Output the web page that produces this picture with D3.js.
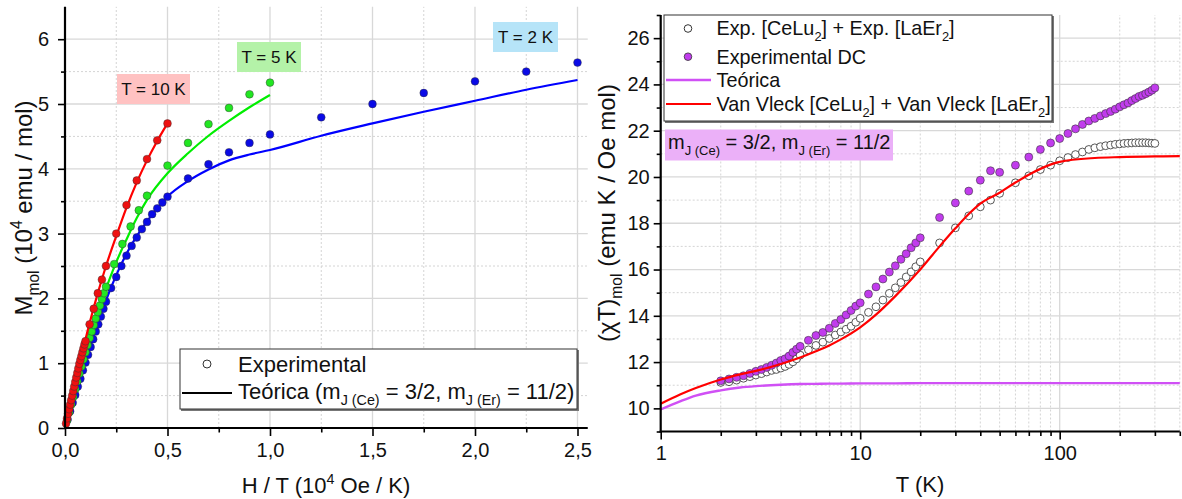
<!DOCTYPE html>
<html><head><meta charset="utf-8">
<script src="https://cdn.jsdelivr.net/npm/d3@7"></script>
<style>body{margin:0;background:#fff}svg{display:block;font-family:"Liberation Sans",Arial,sans-serif}</style>
</head><body><svg id="c" width="1182" height="499"></svg>
<script>
// ---------- Left panel: M vs H/T ----------
const xTicksL = [0, 0.5, 1, 1.5, 2, 2.5];
const yTicksL = [0, 1, 2, 3, 4, 5, 6];

const exp2K_x = [0.0125,0.025,0.0375,0.05,0.0625,0.075,0.0875,0.1,0.1125,0.125,0.1375,0.15,0.1625,0.175,0.1875,0.2,0.225,0.25,0.275,0.3,0.325,0.35,0.375,0.4,0.425,0.45,0.475,0.5,0.6,0.7,0.8,0.9,1.0,1.25,1.5,1.75,2.0,2.25,2.5];
const exp2K_y = [0.13,0.26,0.39,0.51,0.64,0.76,0.89,1.01,1.13,1.25,1.37,1.49,1.60,1.72,1.84,1.95,2.16,2.33,2.50,2.66,2.81,2.94,3.07,3.18,3.30,3.39,3.48,3.57,3.85,4.07,4.255,4.40,4.53,4.795,5.0,5.17,5.35,5.50,5.64];
const th2K_x = [0,0.05,0.1,0.15,0.2,0.25,0.3,0.35,0.4,0.45,0.5,0.6,0.7,0.8,0.9,1.0,1.25,1.5,1.75,2.0,2.25,2.5];
const th2K_y = [0,0.52,1.03,1.52,1.97,2.36,2.69,2.96,3.19,3.39,3.57,3.81,3.99,4.13,4.22,4.29,4.51,4.70,4.88,5.05,5.22,5.37];

const exp5K_x = [0.01,0.02,0.03,0.04,0.05,0.06,0.07,0.08,0.09,0.1,0.11,0.12,0.13,0.14,0.15,0.16,0.17,0.18,0.19,0.2,0.24,0.28,0.32,0.36,0.4,0.5,0.6,0.7,0.8,0.9,1.0];
const exp5K_y = [0.12,0.24,0.36,0.48,0.60,0.72,0.84,0.95,1.06,1.17,1.28,1.39,1.49,1.59,1.69,1.79,1.89,1.99,2.08,2.18,2.53,2.84,3.11,3.36,3.585,4.05,4.40,4.69,4.94,5.15,5.33];
const th5K_x = [0,0.05,0.1,0.15,0.2,0.25,0.3,0.35,0.4,0.5,0.6,0.7,0.8,0.9,1.0];
const th5K_y = [0,0.60,1.18,1.69,2.15,2.56,2.91,3.24,3.52,3.93,4.24,4.51,4.74,4.95,5.14];

const exp10K_x = [0.005,0.01,0.015,0.02,0.025,0.03,0.035,0.04,0.045,0.05,0.055,0.06,0.065,0.07,0.075,0.08,0.085,0.09,0.095,0.1,0.12,0.14,0.16,0.18,0.2,0.25,0.3,0.35,0.4,0.45,0.5];
const exp10K_y = [0.07,0.15,0.22,0.29,0.36,0.43,0.50,0.57,0.64,0.71,0.78,0.85,0.92,0.99,1.05,1.11,1.17,1.23,1.29,1.34,1.60,1.84,2.08,2.29,2.50,3.00,3.44,3.82,4.15,4.44,4.70];
const th10K_x = [0,0.05,0.1,0.15,0.2,0.25,0.3,0.35,0.4,0.45,0.5];
const th10K_y = [0,0.71,1.37,1.97,2.50,2.96,3.40,3.79,4.13,4.43,4.70];

// ---------- Right panel: chiT vs T ----------
const xTicksR = [1, 10, 100];
const yTicksR = [10, 12, 14, 16, 18, 20, 22, 24, 26];
const tempsExp = [2,2.2,2.4,2.6,2.8,3,3.2,3.4,3.6,3.8,4,4.2,4.4,4.6,4.8,5,5.5,6,6.5,7,7.5,8,8.5,9,9.5,10,11,12,13,14,15,16,17,18,19,20,25,30,35,40,45,50,60,70,80,90,100,110,120,130,140,150,160,170,180,190,200,210,220,230,240,250,260,270,280,290,300];
const chiDC = [11.19,11.27,11.34,11.41,11.51,11.60,11.68,11.77,11.86,11.96,12.07,12.14,12.26,12.42,12.56,12.68,12.94,13.15,13.28,13.46,13.67,13.84,14.04,14.23,14.42,14.56,14.94,15.25,15.59,15.89,16.16,16.44,16.68,16.94,17.15,17.37,18.25,18.88,19.39,19.86,20.27,20.20,20.51,20.86,21.19,21.47,21.66,21.88,22.08,22.27,22.42,22.53,22.64,22.74,22.83,22.93,23.03,23.12,23.20,23.30,23.39,23.48,23.53,23.60,23.67,23.75,23.85];
const chiSum = [11.12,11.15,11.22,11.30,11.37,11.44,11.50,11.57,11.64,11.68,11.74,11.81,11.90,12.01,12.14,12.30,12.53,12.72,12.86,13.02,13.17,13.30,13.42,13.55,13.72,13.89,14.15,14.39,14.68,14.97,15.21,15.44,15.68,15.90,16.12,16.33,17.15,17.80,18.32,18.71,19.00,19.29,19.75,20.05,20.32,20.51,20.70,20.84,20.97,21.08,21.19,21.26,21.31,21.35,21.38,21.41,21.43,21.45,21.46,21.47,21.48,21.48,21.48,21.48,21.47,21.46,21.45];
const tempsTh = [1,1.25,1.5,2,2.5,3,4,5,6,7,8,10,12,15,20,25,30,35,40,50,60,70,80,100,150,200,300,400];
const chiTeo = [9.95,10.30,10.55,10.78,10.90,10.96,11.02,11.05,11.06,11.07,11.07,11.08,11.08,11.08,11.09,11.09,11.09,11.09,11.09,11.09,11.09,11.09,11.09,11.09,11.09,11.09,11.09,11.09];
const chiVV = [10.20,10.60,10.88,11.25,11.47,11.62,11.92,12.20,12.47,12.72,12.98,13.50,14.05,14.85,16.00,17.00,17.78,18.40,18.85,19.32,19.76,20.10,20.35,20.65,20.82,20.86,20.89,20.90];

// ---------- drawing ----------
const svg = d3.select("#c");
const FONT = 20;

const xL = d3.scaleLinear().domain([0, 2.55]).range([65, 587.75]);
const yL = d3.scaleLinear().domain([0, 6.5]).range([428, 6.8]);
const xR = d3.scaleLog().domain([1, 400]).range([660.7, 1179.8]);
const yR = d3.scaleLinear().domain([9, 27]).range([431.5, 15]);

function rich(sel, parts, size) {
  let prev = 0;
  parts.forEach(([t, k]) => {
    const ts = sel.append("tspan").text(t);
    let off = 0, fs = size;
    if (k === "sub") { off = size * 0.3; fs = size * 0.65; }
    if (k === "sup") { off = -size * 0.4; fs = size * 0.65; }
    ts.attr("font-size", fs).attr("dy", off - prev);
    prev = off;
  });
}

function grid(g, xs, ys, xMaj, xMin, yMaj, yMin) {
  const [x0, x1] = xs.range(); const [y0, y1] = ys.range();
  g.append("g").selectAll("line").data(xMin).join("line").attr("x1", d => xs(d)).attr("x2", d => xs(d)).attr("y1", y0).attr("y2", y1)
    .attr("stroke", "#d4d4d4").attr("stroke-width", 1).attr("stroke-dasharray", "2,2");
  g.append("g").selectAll("line").data(yMin).join("line").attr("y1", d => ys(d)).attr("y2", d => ys(d)).attr("x1", x0).attr("x2", x1)
    .attr("stroke", "#d4d4d4").attr("stroke-width", 1).attr("stroke-dasharray", "2,2");
  g.append("g").selectAll("line").data(xMaj).join("line").attr("x1", d => xs(d)).attr("x2", d => xs(d)).attr("y1", y0).attr("y2", y1)
    .attr("stroke", "#d8d8d8").attr("stroke-width", 1.3);
  g.append("g").selectAll("line").data(yMaj).join("line").attr("y1", d => ys(d)).attr("y2", d => ys(d)).attr("x1", x0).attr("x2", x1)
    .attr("stroke", "#d8d8d8").attr("stroke-width", 1.3);
}

function axes(g, xs, ys, xMaj, xMin, yMaj, yMin, xfmt, yfmt, xpad, ypad) {
  const [x0] = xs.range(); const [y0] = ys.range();
  const ax = g.append("g").attr("transform", `translate(0,${y0})`)
    .call(d3.axisBottom(xs).tickValues(xMaj).tickSize(8).tickPadding(xpad).tickFormat(xfmt).tickSizeOuter(0));
  const axm = g.append("g").attr("transform", `translate(0,${y0})`)
    .call(d3.axisBottom(xs).tickValues(xMin).tickSize(4.5).tickFormat("").tickSizeOuter(0));
  const ay = g.append("g").attr("transform", `translate(${x0},0)`)
    .call(d3.axisLeft(ys).tickValues(yMaj).tickSize(7).tickPadding(ypad).tickFormat(yfmt).tickSizeOuter(0));
  const aym = g.append("g").attr("transform", `translate(${x0},0)`)
    .call(d3.axisLeft(ys).tickValues(yMin).tickSize(4).tickFormat("").tickSizeOuter(0));
  [ax, axm, ay, aym].forEach(a => {
    a.select(".domain").remove();
    a.selectAll("line").attr("stroke", "#000").attr("stroke-width", 1.6);
    a.selectAll("text").attr("font-size", FONT).attr("fill", "#111").attr("font-family", "Liberation Sans, Arial, sans-serif");
  });
  const [xa, xb] = xs.range(); const [ya, yb] = ys.range();
  g.append("line").attr("x1", xa - 1).attr("x2", xb).attr("y1", ya).attr("y2", ya).attr("stroke", "#000").attr("stroke-width", 2.2);
  g.append("line").attr("x1", xa).attr("x2", xa).attr("y1", ya + 1).attr("y2", yb).attr("stroke", "#000").attr("stroke-width", 2.2);
}

// ===== LEFT =====
const gL = svg.append("g");
const xMinL = [0.25, 0.75, 1.25, 1.75, 2.25];
const yMinL = [0.5, 1.5, 2.5, 3.5, 4.5, 5.5];
grid(gL, xL, yL, xTicksL.slice(1), xMinL, yTicksL.slice(1), yMinL);

const lineL = d3.line().x(d => xL(d[0])).y(d => yL(d[1])).curve(d3.curveMonotoneX);
const seriesL = [
  {ex: exp2K_x, ey: exp2K_y, tx: th2K_x, ty: th2K_y, c: "#0000ff", f: "#0a0ae6"},
  {ex: exp5K_x, ey: exp5K_y, tx: th5K_x, ty: th5K_y, c: "#00ee00", f: "#22e622"},
  {ex: exp10K_x, ey: exp10K_y, tx: th10K_x, ty: th10K_y, c: "#ff0000", f: "#ee1111"}
];
seriesL.forEach(s => {
  gL.append("path").datum(s.tx.map((x, i) => [x, s.ty[i]])).attr("d", lineL)
    .attr("fill", "none").attr("stroke", s.c).attr("stroke-width", 2.2);
  gL.append("g").selectAll("circle").data(s.ex.map((x, i) => [x, s.ey[i]])).join("circle")
    .attr("cx", d => xL(d[0])).attr("cy", d => yL(d[1])).attr("r", 3.9)
    .attr("fill", s.f).attr("stroke", "#333").attr("stroke-opacity", 0.55).attr("stroke-width", 0.8);
});

axes(gL, xL, yL, xTicksL, xMinL, yTicksL, yMinL,
  d => d3.format(".1f")(d).replace(".", ","), d3.format("d"), 7, 9);

function tagBox(x, y, w, h, fill, txt) {
  gL.append("rect").attr("x", x).attr("y", y).attr("width", w).attr("height", h).attr("fill", fill);
  gL.append("text").attr("x", x + w / 2).attr("y", y + h / 2 + 6).attr("text-anchor", "middle")
    .attr("font-size", 17).attr("fill", "#111").text(txt);
}
tagBox(117, 74, 73, 30, "#ffc2c2", "T = 10 K");
tagBox(237, 42, 64, 30, "#b4f2a8", "T = 5 K");
tagBox(493, 22, 65, 30, "#b6e4f8", "T = 2 K");

// left legend
const lg = gL.append("g");
lg.append("rect").attr("x", 181).attr("y", 350).attr("width", 398).attr("height", 61).attr("fill", "#777");
lg.append("rect").attr("x", 180).attr("y", 349).attr("width", 397).attr("height", 60).attr("fill", "#fff").attr("stroke", "#333").attr("stroke-width", 1);
lg.append("circle").attr("cx", 207).attr("cy", 364).attr("r", 4).attr("fill", "#fff").attr("stroke", "#333").attr("stroke-width", 1);
lg.append("text").attr("x", 238).attr("y", 371.5).attr("font-size", 22).attr("fill", "#111").text("Experimental");
lg.append("line").attr("x1", 182).attr("x2", 232).attr("y1", 393).attr("y2", 393).attr("stroke", "#000").attr("stroke-width", 2.2);
rich(lg.append("text").attr("x", 238).attr("y", 398.5).attr("fill", "#111"),
  [["Teórica (m", "n"], ["J (Ce)", "sub"], [" = 3/2, m", "n"], ["J (Er)", "sub"], [" = 11/2)", "n"]], 22);

// axis titles left
rich(svg.append("text").attr("x", 326).attr("y", 493).attr("text-anchor", "middle").attr("fill", "#111"),
  [["H / T (10", "n"], ["4", "sup"], [" Oe / K)", "n"]], 22);
rich(svg.append("text").attr("transform", "translate(32,208) rotate(-90)").attr("text-anchor", "middle").attr("fill", "#111"),
  [["M", "n"], ["mol", "sub"], [" (10", "n"], ["4", "sup"], [" emu / mol)", "n"]], 24);

// ===== RIGHT =====
const gR = svg.append("g");
const xMinR = [2,3,4,5,6,7,8,9,20,30,40,50,60,70,80,90,200,300,400];
const yMinR = [11, 13, 15, 17, 19, 21, 23, 25];
grid(gR, xR, yR, xTicksR.slice(1), xMinR, yTicksR, yMinR);

gR.append("g").selectAll("circle").data(tempsExp.map((t, i) => [t, chiSum[i]])).join("circle")
  .attr("cx", d => xR(d[0])).attr("cy", d => yR(d[1])).attr("r", 3.9)
  .attr("fill", "#fff").attr("stroke", "#444").attr("stroke-width", 0.9);
gR.append("g").selectAll("circle").data(tempsExp.map((t, i) => [t, chiDC[i]])).join("circle")
  .attr("cx", d => xR(d[0])).attr("cy", d => yR(d[1])).attr("r", 4)
  .attr("fill", "#c13ced").attr("stroke", "#333").attr("stroke-opacity", 0.7).attr("stroke-width", 0.8);

const lineR = d3.line().x(d => xR(d[0])).y(d => yR(d[1])).curve(d3.curveMonotoneX);
gR.append("path").datum(tempsTh.map((t, i) => [t, chiTeo[i]])).attr("d", lineR)
  .attr("fill", "none").attr("stroke", "#d050f5").attr("stroke-width", 2.4);
gR.append("path").datum(tempsTh.map((t, i) => [t, chiVV[i]])).attr("d", lineR)
  .attr("fill", "none").attr("stroke", "#ff0000").attr("stroke-width", 2.2);

axes(gR, xR, yR, xTicksR, xMinR, yTicksR, [9, ...yMinR, 27], d3.format("d"), d3.format("d"), 6, 4);

// right legend
const rg = gR.append("g");
rg.append("rect").attr("x", 665).attr("y", 16).attr("width", 389).attr("height", 107).attr("fill", "#777");
rg.append("rect").attr("x", 664).attr("y", 15).attr("width", 388).attr("height", 106).attr("fill", "#fff").attr("stroke", "#333").attr("stroke-width", 1);
rg.append("circle").attr("cx", 688).attr("cy", 28.5).attr("r", 3.8).attr("fill", "#fff").attr("stroke", "#333").attr("stroke-width", 1);
rich(rg.append("text").attr("x", 716.5).attr("y", 35).attr("fill", "#111"),
  [["Exp. [CeLu", "n"], ["2", "sub"], ["] + Exp. [LaEr", "n"], ["2", "sub"], ["]", "n"]], 19.8);
rg.append("circle").attr("cx", 688).attr("cy", 56.7).attr("r", 3.8).attr("fill", "#c13ced").attr("stroke", "#333").attr("stroke-width", 0.8);
rg.append("text").attr("x", 716.5).attr("y", 63.5).attr("font-size", 19.8).attr("fill", "#111").text("Experimental DC");
rg.append("line").attr("x1", 666).attr("x2", 711).attr("y1", 80).attr("y2", 80).attr("stroke", "#d050f5").attr("stroke-width", 2.4);
rg.append("text").attr("x", 716.5).attr("y", 86.8).attr("font-size", 19.8).attr("fill", "#111").text("Teórica");
rg.append("line").attr("x1", 666).attr("x2", 711).attr("y1", 104).attr("y2", 104).attr("stroke", "#ff0000").attr("stroke-width", 2.2);
rich(rg.append("text").attr("x", 716.5).attr("y", 111).attr("fill", "#111"),
  [["Van Vleck [CeLu", "n"], ["2", "sub"], ["] + Van Vleck [LaEr", "n"], ["2", "sub"], ["]", "n"]], 19.8);

// annotation
gR.append("rect").attr("x", 665).attr("y", 129.5).attr("width", 228).attr("height", 31).attr("fill", "#ebb0f8");
rich(gR.append("text").attr("x", 668).attr("y", 148.5).attr("fill", "#111"),
  [["m", "n"], ["J (Ce)", "sub"], [" = 3/2, m", "n"], ["J (Er)", "sub"], [" = 11/2", "n"]], 20);

// axis titles right
svg.append("text").attr("x", 920).attr("y", 492).attr("text-anchor", "middle").attr("font-size", 22).attr("fill", "#111").text("T (K)");
rich(svg.append("text").attr("transform", "translate(615,213) rotate(-90)").attr("text-anchor", "middle").attr("fill", "#111"),
  [["(χT)", "n"], ["mol", "sub"], [" (emu K / Oe mol)", "n"]], 24);
</script></body></html>
